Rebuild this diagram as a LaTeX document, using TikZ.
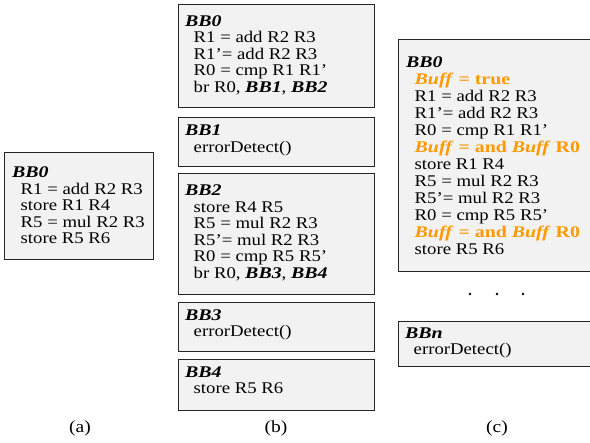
\documentclass[tikz,border=0pt]{standalone}
\usepackage{fontspec}
\setmainfont[FakeStretch=1.15,
  BoldFeatures={FakeStretch=1.22},
  BoldItalicFeatures={FakeStretch=1.22}]{Liberation Serif}
\usetikzlibrary{calc}
\definecolor{boxfill}{HTML}{F2F2F2}
\definecolor{boxline}{HTML}{262626}
\definecolor{flag}{HTML}{FF9900}
% block heading / bold-italic label
\newcommand{\hd}[1]{\textbf{\textit{#1}}}
% indent of instructions below the heading
\newcommand{\ind}{\hspace*{8.5pt}}
% instrumented (flag) instruction line
\newcommand{\flagline}[1]{\textcolor{flag}{\ind\textbf{#1}}}
\begin{document}
\begin{tikzpicture}[x=1pt,y=-1pt,
  block/.style={draw=boxline, fill=boxfill, line width=1.4pt, anchor=north west, inner sep=0pt},
  code/.style={anchor=north west, inner sep=0pt, align=left, font=\fontsize{16.3}{16.5}\selectfont},
  longcode/.style={code, font=\fontsize{16.3}{17}\selectfont},
  caption/.style={inner sep=0pt, font=\fontsize{17}{18}\selectfont},
  dot/.style={circle, fill=black, inner sep=0pt, minimum size=2.6pt}]
\useasboundingbox (0,0) rectangle (590,443);

% ---- (a) original block ----
\node[block, minimum width=149pt, minimum height=107pt] (a0) at (4,152) {};
\node[code] (a0t) at ($(a0.north west)+(8,14.5)$) {%
  \hd{BB0}\\
  \ind R1 = add R2 R3\\
  \ind store R1 R4\\
  \ind R5 = mul R2 R3\\
  \ind store R5 R6};

% ---- (b) duplicated instructions with branches ----
\node[block, minimum width=196pt, minimum height=103pt] (b0) at (178,4) {};
\node[code] (b0t) at ($(b0.north west)+(7,11)$) {%
  \hd{BB0}\\
  \ind R1 = add R2 R3\\
  \ind R1'= add R2 R3\\
  \ind R0 = cmp R1 R1'\\
  \ind br R0, \hd{BB1}, \hd{BB2}};

\node[block, minimum width=196pt, minimum height=49pt] (b1) at (178,117) {};
\node[code] (b1t) at ($(b1.north west)+(7,8)$) {%
  \hd{BB1}\\
  \ind errorDetect()};

\node[block, minimum width=196pt, minimum height=121pt] (b2) at (178,173) {};
\node[code] (b2t) at ($(b2.north west)+(7,12)$) {%
  \hd{BB2}\\
  \ind store R4 R5\\
  \ind R5 = mul R2 R3\\
  \ind R5'= mul R2 R3\\
  \ind R0 = cmp R5 R5'\\
  \ind br R0, \hd{BB3}, \hd{BB4}};

\node[block, minimum width=196pt, minimum height=49pt] (b3) at (178,302) {};
\node[code] (b3t) at ($(b3.north west)+(7,7.5)$) {%
  \hd{BB3}\\
  \ind errorDetect()};

\node[block, minimum width=196pt, minimum height=51pt] (b4) at (178,359) {};
\node[code] (b4t) at ($(b4.north west)+(7,7.5)$) {%
  \hd{BB4}\\
  \ind store R5 R6};

% ---- (c) flag accumulation in a single block ----
\node[block, minimum width=196pt, minimum height=232pt] (c0) at (398,39) {};
\node[longcode] (c0t) at ($(c0.north west)+(8,17.5)$) {%
  \hd{BB0}\\
  \flagline{\textit{Buff} = true}\\
  \ind R1 = add R2 R3\\
  \ind R1'= add R2 R3\\
  \ind R0 = cmp R1 R1'\\
  \flagline{\textit{Buff} = and \textit{Buff} R0}\\
  \ind store R1 R4\\
  \ind R5 = mul R2 R3\\
  \ind R5'= mul R2 R3\\
  \ind R0 = cmp R5 R5'\\
  \flagline{\textit{Buff} = and \textit{Buff} R0}\\
  \ind store R5 R6};

\node[dot] (d1) at (470,294) {};
\node[dot] (d2) at (497,294) {};
\node[dot] (d3) at (523,294) {};

\node[block, minimum width=196pt, minimum height=45pt] (cn) at (398,321) {};
\node[code] (cnt) at ($(cn.north west)+(7,6.5)$) {%
  \hd{BBn}\\
  \ind errorDetect()};

% ---- captions ----
\node[caption] (la) at (80,428) {(a)};
\node[caption] (lb) at (276,428) {(b)};
\node[caption] (lc) at (497,428) {(c)};
\end{tikzpicture}
\end{document}
